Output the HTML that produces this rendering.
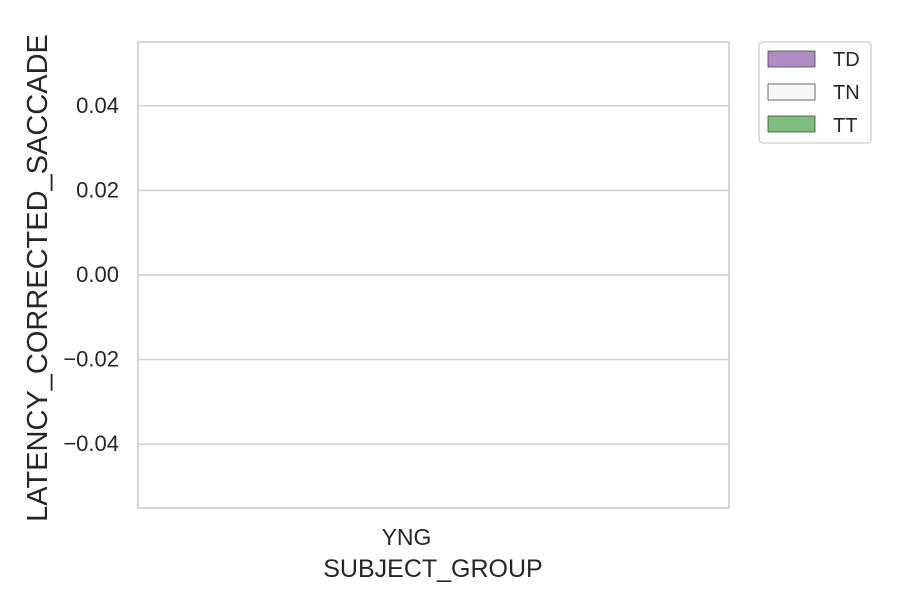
<!DOCTYPE html>
<html><head><meta charset="utf-8"><style>
html,body{margin:0;padding:0;background:#fff;width:900px;height:600px;overflow:hidden}
text{font-family:"Liberation Sans",Arial,sans-serif;fill:#262626}
</style></head><body>
<svg id="chart" width="900" height="600" xmlns="http://www.w3.org/2000/svg">
<g id="grid"></g>
<g id="bars"></g>
<rect x="138" y="42" width="591" height="466" fill="none" stroke="#cccccc" stroke-width="1.6"/>
<g id="yticks"></g>
<g id="xticks"></g>
<text x="433" y="577" font-size="25" text-anchor="middle">SUBJECT_GROUP</text>
<text transform="translate(47,278) rotate(-90)" font-size="29" text-anchor="middle">LATENCY_CORRECTED_SACCADE</text>
<g>
<rect x="759" y="42" width="112" height="101" rx="4" fill="#fff" stroke="#cccccc" stroke-width="1.3"/>
<g><rect x="768" y="51" width="47" height="16" fill="#af8dc3" stroke="#444" stroke-width="0.8"/><text x="833" y="66" font-size="20">TD</text></g>
<g><rect x="768" y="84" width="47" height="16" fill="#f7f7f7" stroke="#444" stroke-width="0.8"/><text x="833" y="99" font-size="20">TN</text></g>
<g><rect x="768" y="116" width="47" height="16" fill="#7fbf7b" stroke="#444" stroke-width="0.8"/><text x="833" y="132" font-size="20">TT</text></g>
</g>
</svg>
<script>
const categories = ["YNG"];
const seriesNames = ["TD", "TN", "TT"];
const valuesTD = [null];
const valuesTN = [null];
const valuesTT = [null];
const yTicks = [0.04, 0.02, 0.00, -0.02, -0.04];
const yTickLabels = ["0.04", "0.02", "0.00", "\u22120.02", "\u22120.04"];

const NS = "http://www.w3.org/2000/svg";
const plot = {x0:138, x1:729, y0:42, y1:508};
const yMin = -0.0551, yMax = 0.0551;
function yScale(v){ return plot.y1 - (v - yMin) / (yMax - yMin) * (plot.y1 - plot.y0); }
function xBand(i){ const w = (plot.x1 - plot.x0) / categories.length; return plot.x0 + w * i; }
const bandW = (plot.x1 - plot.x0) / categories.length;
const colors = ["#af8dc3", "#f7f7f7", "#7fbf7b"];
const allSeries = [valuesTD, valuesTN, valuesTT];

const grid = document.getElementById("grid");
const yt = document.getElementById("yticks");
yTicks.forEach((t, i) => {
  const y = yScale(t);
  const l = document.createElementNS(NS, "line");
  l.setAttribute("x1", plot.x0); l.setAttribute("x2", plot.x1);
  l.setAttribute("y1", y); l.setAttribute("y2", y);
  l.setAttribute("stroke", "#cccccc"); l.setAttribute("stroke-width", "1.4");
  
  
  grid.appendChild(l);
  const tx = document.createElementNS(NS, "text");
  tx.setAttribute("x", 119); tx.setAttribute("y", y + 7);
  tx.setAttribute("font-size", "22"); tx.setAttribute("text-anchor", "end");
  tx.textContent = yTickLabels[i];
  
  
  yt.appendChild(tx);
});

const xt = document.getElementById("xticks");
categories.forEach((c, i) => {
  const tx = document.createElementNS(NS, "text");
  tx.setAttribute("x", xBand(i) + bandW / 2 - 27); tx.setAttribute("y", 545);
  tx.setAttribute("font-size", "23"); tx.setAttribute("text-anchor", "middle");
  tx.textContent = c;
  
  
  xt.appendChild(tx);
});

const bars = document.getElementById("bars");
categories.forEach((c, i) => {
  const groupW = bandW * 0.8;
  const bw = groupW / seriesNames.length;
  allSeries.forEach((vals, s) => {
    const v = vals[i];
    if (v === null || v === undefined || isNaN(v)) return;
    const r = document.createElementNS(NS, "rect");
    const x = xBand(i) + bandW * 0.1 + bw * s;
    const y0 = yScale(0), y = yScale(v);
    r.setAttribute("x", x); r.setAttribute("width", bw);
    r.setAttribute("y", Math.min(y0, y)); r.setAttribute("height", Math.abs(y - y0));
    r.setAttribute("fill", colors[s]); r.setAttribute("stroke", "#444");
    
    
    bars.appendChild(r);
  });
});
</script>
</body></html>
